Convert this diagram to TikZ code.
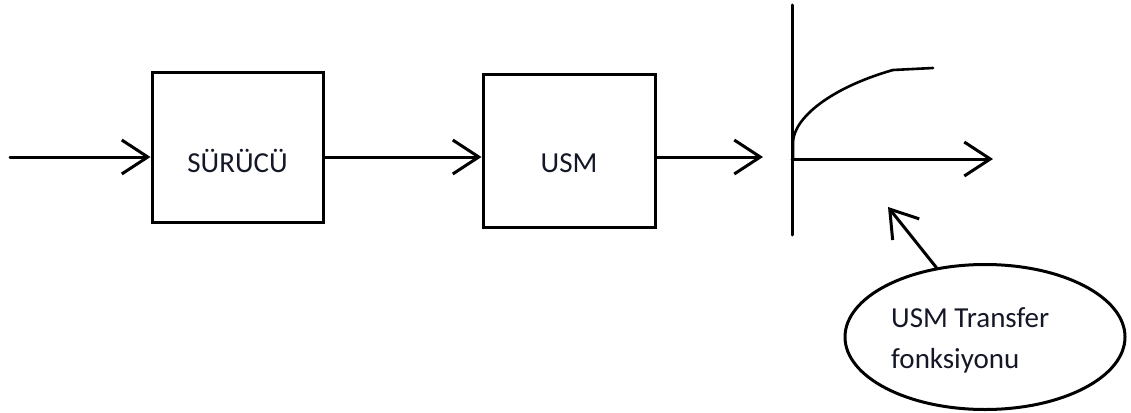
\documentclass[tikz,border=0pt]{standalone}
\usepackage{fontspec}
\setmainfont{Carlito}
\usetikzlibrary{arrows.meta,shapes.geometric}
\definecolor{txt}{HTML}{141826}
\tikzset{
  ln/.style={line width=3pt, line cap=round, line join=round},
  arr/.style={ln, -{Straight Barb[length=26pt,width=34pt,line width=3pt]}},
  blockbox/.style={draw, line width=3pt, rectangle, inner sep=0pt, text=txt,
    font=\fontsize{29}{34}\selectfont},
  lbl/.style={text=txt, font=\fontsize{29}{41}\selectfont, align=left, inner sep=0pt}
}
\begin{document}
\begin{tikzpicture}[x=1pt,y=-1pt]
\useasboundingbox (0,0) rectangle (1131,412);
\coordinate (in) at (10,157);
\coordinate (out) at (763,157);
\node[blockbox, minimum width=171pt, minimum height=150pt, text height=50pt, text depth=0pt] (box1) at (237.5,147) {SÜRÜCÜ};
\node[blockbox, minimum width=172pt, minimum height=153pt, text height=43pt, text depth=0pt] (box2) at (569,150.5) {USM};
\draw[arr] (in) -- (in -| box1.west);
\draw[arr] (box1.east |- in) -- (box2.west |- in);
\draw[arr] (box2.east |- in) -- (out);
% graph
\coordinate (vtop) at (792,5);
\coordinate (vbot) at (792,235);
\coordinate (o) at (792,159);
\coordinate (xend) at (993,159);
\draw[ln] (vtop) -- (vbot);
\draw[arr] (o) -- (xend);
\draw[ln, line width=2.6pt] (793,158) -- (793,142) .. controls (794,118) and (830,88) .. (893,70) -- (933,68);
% ellipse note
\node[draw, ellipse, line width=3pt, minimum width=280pt, minimum height=145pt, inner sep=0pt] (tf) at (985,337) {};
\node[lbl, anchor=base west] (tftext) at (891,368) {USM Transfer\\fonksiyonu};
\coordinate (ptip) at (888,207);
\draw[arr] (tf.125) -- (ptip);
\end{tikzpicture}
\end{document}
